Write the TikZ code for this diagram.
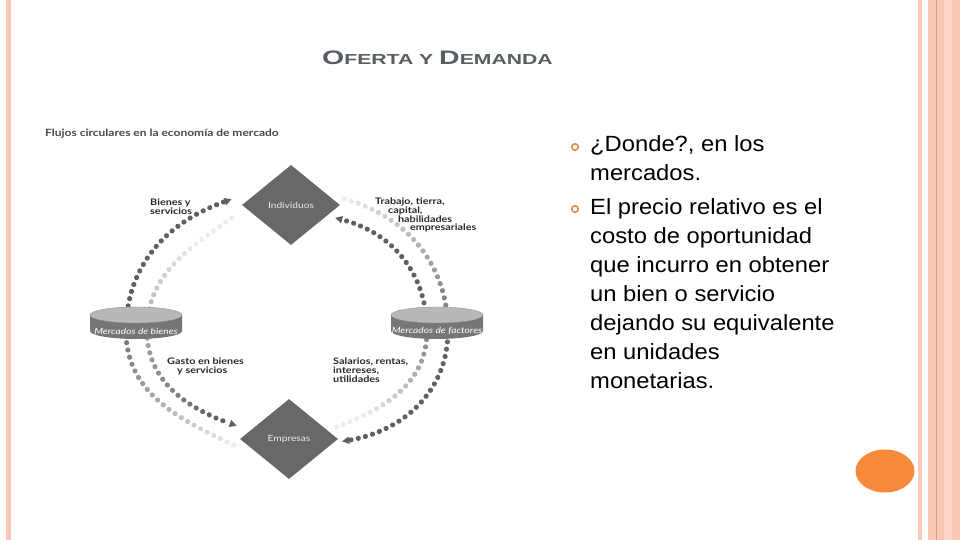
\documentclass[tikz,border=0pt]{standalone}
\usepackage{fontspec}
\setmainfont{Liberation Sans}
\newfontfamily\flowfont{Lato}
\usetikzlibrary{shapes.geometric,decorations.markings}
\definecolor{framepink}{RGB}{249,199,182}
\definecolor{framelight}{RGB}{252,214,200}
\definecolor{framedark}{RGB}{228,156,124}
\definecolor{titlegray}{RGB}{88,93,100}
\definecolor{bulletorange}{RGB}{229,137,74}
\definecolor{bloborange}{RGB}{247,137,58}
\definecolor{dotdark}{RGB}{96,96,96}
\definecolor{dotlight}{RGB}{236,236,236}
\definecolor{diamondgray}{RGB}{104,104,104}
\definecolor{disktop}{RGB}{184,184,184}
\definecolor{diskside}{RGB}{118,118,118}
\definecolor{labelgray}{RGB}{40,40,40}
\pgfdeclarelayer{back}
\pgfsetlayers{back,main}
\tikzset{flowdots/.style 2 args={postaction={decoration={markings,
           mark=between positions 0 and 1 step 7.4pt with {%
             \pgfmathsetmacro\flowpos{\pgfkeysvalueof{/pgf/decoration/mark info/distance from start}/\pgfdecoratedpathlength}%
             \pgfmathtruncatemacro\flowamt{100*min(1,max(0,(\flowpos-#1)/(#2-#1)))}%
             \fill[dotdark!\flowamt!dotlight] (0,0) circle (2.6pt);}},
         decorate}},
         flowtip/.style={postaction={decoration={markings,
           mark=at position 0.999 with {\fill[dotdark] (8.5pt,0) -- (1.5pt,3.8pt) -- (1.5pt,-3.8pt) -- cycle;}},
         decorate}},
         flowdiamond/.style={diamond,fill=diamondgray,minimum width=98pt,minimum height=80pt,inner sep=0pt,
           text=white!92!black,font=\flowfont\fontsize{8.5}{9}\selectfont},
         disklabel/.style={inner sep=0pt,text=white,font=\flowfont\itshape\fontsize{8.5}{9}\selectfont},
         flowlabel/.style={anchor=north west,inner sep=0pt,align=left,xscale=1.2,text=labelgray,
           font=\flowfont\bfseries\fontsize{9}{8.7}\selectfont},
         bodyline/.style={anchor=base west,inner sep=0pt,font=\fontsize{22}{29}\selectfont},
         bulletring/.style={circle,draw=bulletorange,line width=1.6pt,minimum size=6.5pt,inner sep=0pt}
}

\begin{document}
\begin{tikzpicture}[x=1pt,y=1pt]
  \useasboundingbox (0,0) rectangle (960,540);
  % slide frame
  \fill[framepink] (5.5,0) rectangle (11,540);
  \fill[framepink] (917.5,0) rectangle (922,540);
  \fill[framepink] (928,0) rectangle (960,540);
  \fill[framelight] (944,0) rectangle (952,540);
  \draw[framedark,line width=1.2pt] (936.6,0) -- (936.6,540);
  \fill[bloborange] (885,69) ellipse[x radius=29.5,y radius=21.5];

  \node[anchor=base west,inner sep=0pt,text=titlegray] (title) at (322,475)
     {\scalebox{1.46}[1]{\bfseries\fontsize{19.5}{20}\selectfont O\fontsize{14.5}{15}\selectfont FERTA Y
      \fontsize{19.5}{20}\selectfont D\fontsize{14.5}{15}\selectfont EMANDA}};

  % circular flow
  \node[anchor=base west,inner sep=0pt,text=black!72,font=\flowfont\bfseries\fontsize{10}{12}\selectfont]
     (flowtitle) at (45,403) {\scalebox{1.2}[1]{Flujos circulares en la econom\'ia de mercado}};
  \fill[diskside] (90,225) -- (90,209) arc[start angle=180,end angle=360,x radius=46,y radius=8] -- (182,225) -- cycle;
  \fill[disktop,draw=disktop!80!black,line width=0.4pt] (136,225) ellipse[x radius=46,y radius=8];
  \fill[diskside] (391,225) -- (391,209) arc[start angle=180,end angle=360,x radius=46,y radius=8] -- (483,225) -- cycle;
  \fill[disktop,draw=disktop!80!black,line width=0.4pt] (437,225) ellipse[x radius=46,y radius=8];
  \node[disklabel] (bienes) at (136,209) {\scalebox{1.2}[1]{Mercados de bienes}};
  \node[disklabel] (factores) at (437,209) {\scalebox{1.2}[1]{Mercados de factores}};
  \node[flowdiamond] (indiv) at (291,335) {\scalebox{1.2}[1]{Individuos}};
  \node[flowdiamond] (empresas) at (289,101) {\scalebox{1.2}[1]{Empresas}};

  \begin{pgfonlayer}{back}
    \path[flowdots={0}{0.55},flowtip] ([shift={(-6,-6)}]empresas.west) to[out=155,in=-90] ([xshift=-10]bienes.center)
         to[out=90,in=200] ([shift={(-18,3)}]indiv.west);
    \path[flowdots={0.15}{0.95},flowtip] ([shift={(-10,-13)}]indiv.west) to[out=215,in=90] ([xshift=11]bienes.center)
         to[out=-90,in=160] ([shift={(-11,16)}]empresas.west);
    \path[flowdots={0}{0.6},flowtip] ([shift={(4,6)}]indiv.east) to[out=-15,in=90] ([xshift=11]factores.center)
         to[out=-90,in=10] ([shift={(12,-1)}]empresas.east);
    \path[flowdots={0.1}{0.6},flowtip] ([shift={(-2,12)}]empresas.east) to[out=20,in=-90] ([xshift=-10]factores.center)
         to[out=90,in=-15] ([shift={(3,-15)}]indiv.east);
  \end{pgfonlayer}

  \node[flowlabel] (lbienes) at (150,341) {Bienes y\\servicios};
  \node[flowlabel] (ltrabajo) at (375,342) {Trabajo, tierra,\\\hspace*{10.8pt}capital,\\
        \hspace*{19pt}habilidades\\\hspace*{29pt}empresariales};
  \node[flowlabel] (lgasto) at (167,182) {Gasto en bienes\\\hspace*{8.3pt}y servicios};
  \node[flowlabel] (lsalarios) at (333,182) {Salarios, rentas,\\intereses,\\utilidades};

  % text column
  \node[bulletring] (bul1) at (575,393) {};
  \node[bulletring] (bul2) at (575,331) {};
  \foreach \ln/\y/\txt in {1/388/{¿Donde?, en los},2/359/{mercados.},3/325/{El precio relativo es el},
       4/296/{costo de oportunidad},5/267/{que incurro en obtener},6/238/{un bien o servicio},
       7/209/{dejando su equivalente},8/180/{en unidades},9/151/{monetarias.}}
     \node[bodyline] (line\ln) at (590,\y) {\scalebox{1.08}[1]{\txt}};
\end{tikzpicture}
\end{document}
